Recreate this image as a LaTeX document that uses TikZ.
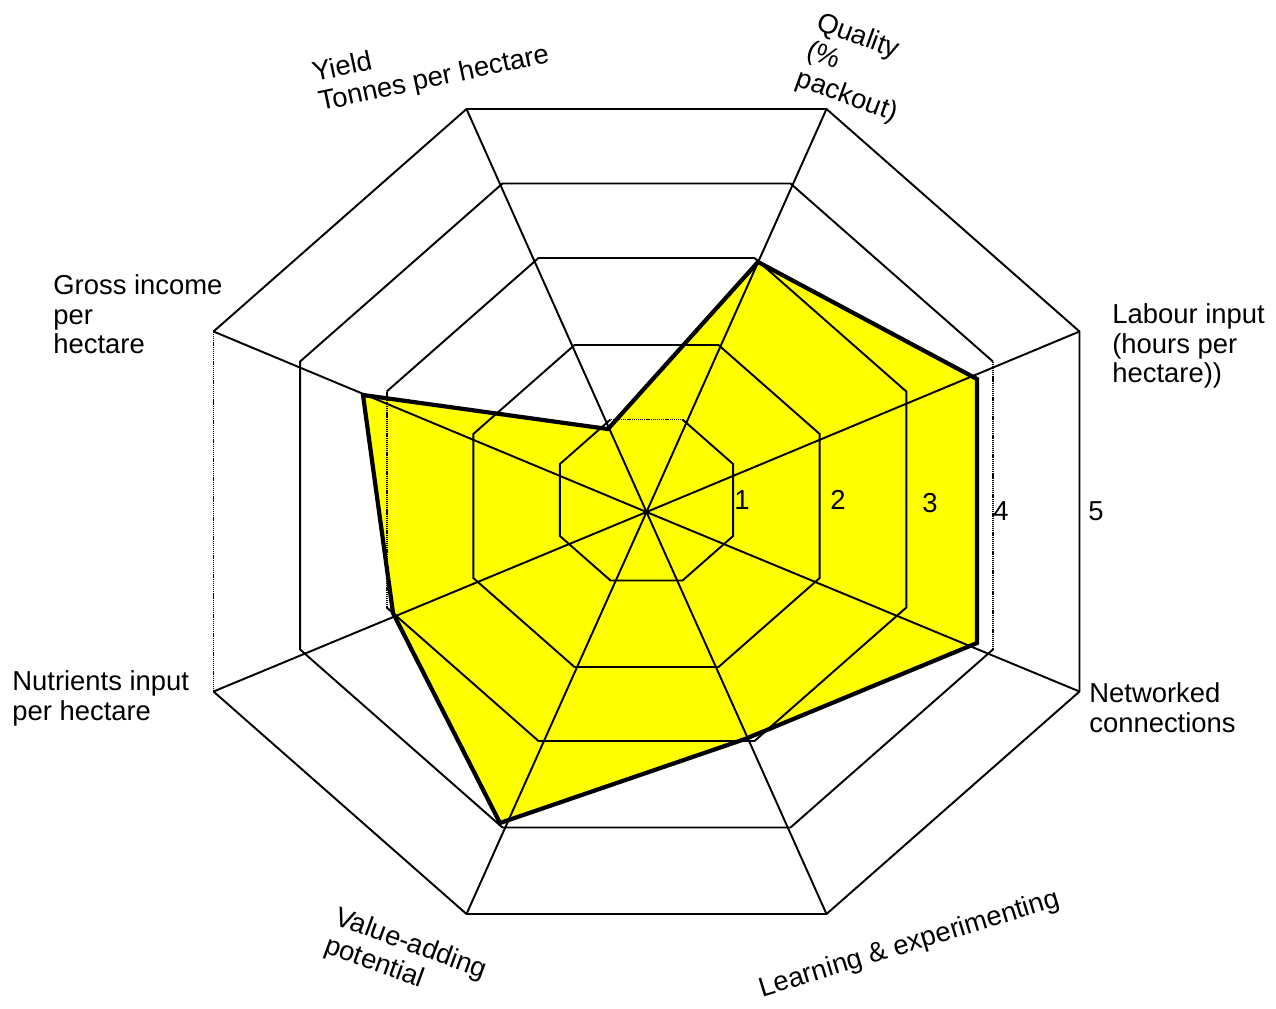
\documentclass[tikz,border=0pt]{standalone}
\usepackage{fontspec}
\setmainfont{Liberation Sans}
\usepackage{tikz}
\definecolor{chartyellow}{RGB}{255,255,0}
\newcommand{\chartfont}{\fontsize{15.6}{17}\selectfont}

\begin{document}
\begin{tikzpicture}[x=0.2mm,y=-0.2mm]

  \tikzstyle{web}=[line width=1.1pt,line join=miter]
  \tikzstyle{webdot}=[line width=1.1pt,dash pattern=on 0.7pt off 0.5pt]
  \tikzstyle{score}=[line width=2.4pt,line join=miter]
  \tikzstyle{axislabel}=[align=left,inner sep=0pt,anchor=north west,font=\chartfont]
  \tikzstyle{ticknum}=[inner sep=0pt,font=\chartfont]

  \useasboundingbox (0,0) rectangle (1276,1008);

  \coordinate (c) at (646.5,512);
  % ring corners, one octagon per score level
  \foreach \k/\cy in {1/500,2/506,3/499.5,4/505.5,5/511.5} {
    \coordinate (r\k v1) at ({646.5-36*\k},{\cy-80.5*\k});
    \coordinate (r\k v2) at ({646.5+36*\k},{\cy-80.5*\k});
    \coordinate (r\k v3) at ({646.5+86.6*\k},{\cy-36*\k});
    \coordinate (r\k v4) at ({646.5+86.6*\k},{\cy+36*\k});
    \coordinate (r\k v5) at ({646.5+36*\k},{\cy+80.5*\k});
    \coordinate (r\k v6) at ({646.5-36*\k},{\cy+80.5*\k});
    \coordinate (r\k v7) at ({646.5-86.6*\k},{\cy+36*\k});
    \coordinate (r\k v8) at ({646.5-86.6*\k},{\cy-36*\k});
  }

  % scores
  \coordinate (yield)     at (608,429);
  \coordinate (quality)   at (758,262);
  \coordinate (labour)    at (977,379);
  \coordinate (network)   at (977,643);
  \coordinate (learning)  at (745,739);
  \coordinate (valueadd)  at (500,823);
  \coordinate (nutrients) at (393,613);
  \coordinate (gross)     at (363,395);

  \fill[chartyellow] (yield) -- (quality) -- (labour) -- (network) -- (learning)
    -- (valueadd) -- (nutrients) -- (gross) -- cycle;

  % web
  \draw[web] (r1v2) -- (r1v3) -- (r1v4) -- (r1v5) -- (r1v6) -- (r1v7) -- (r1v8) -- (r1v1);
  \draw[webdot] (r1v1) -- (r1v2);
  \draw[web] (r2v1) -- (r2v2) -- (r2v3) -- (r2v4) -- (r2v5) -- (r2v6) -- (r2v7) -- (r2v8) -- cycle;
  \draw[web] (r3v8) -- (r3v1) -- (r3v2) -- (r3v3) -- (r3v4) -- (r3v5) -- (r3v6) -- (r3v7);
  \draw[webdot] (r3v7) -- (r3v8);
  \draw[web] (r4v4) -- (r4v5) -- (r4v6) -- (r4v7) -- (r4v8) -- (r4v1) -- (r4v2) -- (r4v3);
  \draw[webdot] (r4v3) -- (r4v4);
  \draw[web] (r5v8) -- (r5v1) -- (r5v2) -- (r5v3) -- (r5v4) -- (r5v5) -- (r5v6) -- (r5v7);
  \draw[webdot] (r5v7) -- (r5v8);
  \foreach \j in {1,...,8}
    \draw[web] (c) -- (r5v\j);

  \draw[score] (yield) -- (quality) -- (labour) -- (network) -- (learning)
    -- (valueadd) -- (nutrients) -- (gross) -- cycle;

  % scale
  \node[ticknum] (t1) at (742,500) {1};
  \node[ticknum] (t2) at (838,500) {2};
  \node[ticknum] (t3) at (930,503) {3};
  \node[ticknum] (t4) at (1001,511) {4};
  \node[ticknum] (t5) at (1096,511) {5};

  % axis names
  \node[axislabel,rotate=12]  (lyield)     at (310,62)   {Yield\\Tonnes per hectare};
  \node[axislabel,rotate=-20] (lquality)   at (822,10)   {Quality\\(\%\\packout)};
  \node[axislabel]            (llabour)    at (1112,303) {Labour input\\(hours per\\hectare))};
  \node[axislabel]            (lnetwork)   at (1089,682) {Networked\\connections};
  \node[axislabel,rotate=17]  (llearning)  at (756,978)  {Learning \& experimenting};
  \node[axislabel,rotate=-20] (lvalueadd)  at (340,905)  {Value-adding\\potential};
  \node[axislabel]            (lnutrients) at (12,670)   {Nutrients input\\per hectare};
  \node[axislabel]            (lgross)     at (53,274)   {Gross income\\per\\hectare};

\end{tikzpicture}
\end{document}
